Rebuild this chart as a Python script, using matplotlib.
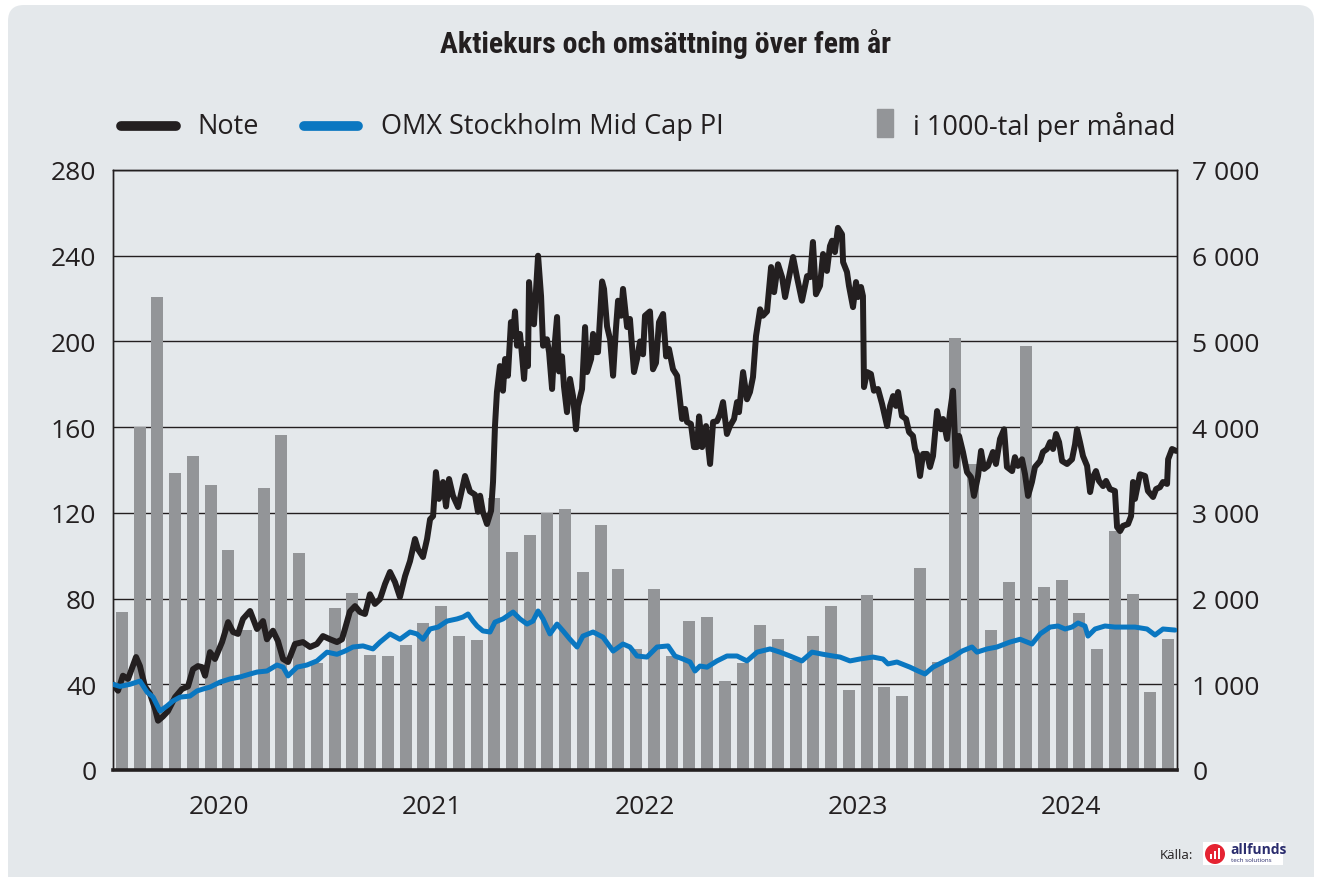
import matplotlib
matplotlib.use("Agg")
import numpy as np
import matplotlib.pyplot as plt
from matplotlib import font_manager
from matplotlib.patches import FancyBboxPatch, Rectangle, Circle
from matplotlib.lines import Line2D

# ---------------- data ----------------
years = ["2020", "2021", "2022", "2023", "2024"]

# monthly turnover, thousands of shares (Jan 2020 .. Dec 2024)
volume = [1849, 3997, 5515, 3464, 3661, 3326, 2571, 1633, 3289, 3910, 2535, 1250,
          1895, 2070, 1343, 1325, 1458, 1711, 1918, 1559, 1513, 3174, 2548, 2746,
          2999, 3045, 2305, 2861, 2350, 1408, 2107, 1329, 1743, 1780, 1044, 1247,
          1697, 1523, 1283, 1559, 1909, 929, 2047, 966, 869, 2360, 1256, 5041,
          3569, 1628, 2199, 4945, 2139, 2222, 1835, 1408, 2792, 2056, 906, 1523]

# Note share price: time in months since 1 Jan 2020, price in SEK
note_t = [0.00, 0.28, 0.56, 0.85, 1.30, 1.52, 1.80, 2.09, 2.37, 2.54, 2.82, 3.10, 3.50, 3.89,
          4.23, 4.51, 4.79, 5.02, 5.19, 5.47, 5.75, 6.15, 6.49, 6.77, 7.05, 7.33, 7.73, 8.12,
          8.46, 8.68, 9.02, 9.30, 9.59, 9.87, 10.26, 10.71, 11.11, 11.50, 11.84, 12.24, 12.63,
          12.91, 13.08, 13.36, 13.65, 13.93, 14.21, 14.49, 14.77, 15.06, 15.34, 15.62, 15.90,
          16.18, 16.47, 16.75, 17.03, 17.20, 17.48, 17.71, 17.88, 18.05, 18.21, 18.38, 18.61,
          18.78, 18.95, 19.17, 19.46, 19.85, 20.13, 20.41, 20.58, 20.70, 20.86, 21.09, 21.32,
          21.43, 21.54, 21.65, 21.82, 21.99, 22.11, 22.27, 22.44, 22.56, 22.67, 22.78, 22.95,
          23.06, 23.18, 23.29, 23.40, 23.46, 23.63, 23.74, 23.97, 24.14, 24.25, 24.47, 24.59,
          24.76, 24.87, 25.04, 25.15, 25.32, 25.43, 25.60, 25.77, 25.94, 26.11, 26.22, 26.45,
          26.62, 26.73, 26.96, 27.07, 27.24, 27.35, 27.58, 27.69, 27.86, 28.03, 28.20, 28.36,
          28.48, 28.65, 28.76, 28.99, 29.15, 29.38, 29.55, 29.72, 29.89, 30.00, 30.28, 30.45,
          30.62, 30.79, 31.02, 31.19, 31.35, 31.58, 31.81, 31.92, 32.09, 32.26, 32.37, 32.59,
          32.76, 32.93, 33.05, 33.22, 33.44, 33.67, 33.84, 34.06, 34.23, 34.40, 34.62, 34.79,
          35.02, 35.19, 35.30, 35.53, 35.75, 35.92, 36.09, 36.26, 36.49, 36.65, 36.88, 37.11,
          37.28, 37.50, 37.73, 37.90, 38.12, 38.35, 38.57, 38.85, 39.14, 39.31, 39.47, 39.64,
          39.87, 40.04, 40.26, 40.43, 40.55, 40.71, 40.88, 41.11, 41.17, 41.39, 41.50, 41.73,
          41.90, 42.01, 42.18, 42.29, 42.35, 42.52, 42.74, 42.91, 43.14, 43.37, 43.65, 43.82,
          43.99, 44.15, 44.27, 44.49, 44.72, 44.89, 45.11, 45.23, 45.34, 45.51, 45.68, 45.90,
          46.07, 46.24, 46.47, 46.69, 46.81, 47.03, 47.20, 47.37, 47.54, 47.71, 47.93, 48.16,
          48.38, 48.55, 48.78, 48.95, 49.12, 49.34, 49.62, 49.79, 50.02, 50.25, 50.41, 50.70,
          50.86, 51.03, 51.26, 51.43, 51.60, 51.82, 51.99, 52.28, 52.44, 52.67, 52.84, 53.01,
          53.18, 53.35, 53.52, 53.80, 54.08, 54.25, 54.36, 54.53, 54.70, 54.93, 55.10, 55.26,
          55.43, 55.60, 55.83, 56.00, 56.22, 56.50, 56.62, 56.79, 56.95, 57.24, 57.41, 57.52,
          57.63, 57.91, 58.20, 58.36, 58.65, 58.82, 59.04, 59.21, 59.44, 59.50, 59.72, 59.95]
note_v = [40, 37, 44, 42.5, 52.7, 48.5, 39, 35.5, 28.5, 23, 25, 27.5, 34, 37.8,
          39, 47, 48.5, 48, 44, 55, 51.8, 59.7, 69, 64.4, 63.5, 70.5, 74.2, 65.8,
          69.5, 61, 65, 60.2, 51.8, 50.4, 58.8, 59.7, 57.4, 58.8, 62.5, 61, 59.7,
          61, 65.8, 74, 76.5, 73.7, 72.8, 82, 77.5, 79.8, 86.8, 92.4, 87.7,
          80.7, 90.5, 97.5, 107.8, 103, 99.4, 107.8, 117, 118.5, 139, 126.5, 134.4,
          123, 135.8, 128, 122.7, 137.2, 130, 128.5, 120.5, 128, 120.4, 114.8, 121,
          134.4, 160.5, 176.4, 188.5, 177, 191.8, 184, 209, 202.5, 214, 198, 203.5,
          194, 182.5, 196.5, 188.5, 227.7, 209, 208, 240, 221, 198, 201, 195,
          177.8, 195, 211.4, 186, 193, 179, 167, 182.5, 174.5, 159, 170, 177.8,
          206.7, 185.7, 191.8, 203.5, 195, 195, 228, 224.5, 207, 201, 184, 205.8,
          219, 212, 224.5, 206.7, 210.5, 185.7, 191.8, 200, 194, 212, 214, 187,
          190, 209, 212.8, 193, 196.5, 187, 184, 176.4, 163.8, 168.5, 162.4, 161.5,
          150.7, 150.7, 165, 150.7, 160.5, 142.8, 162.4, 162.8, 166, 171.7, 156.8, 160.5,
          163.8, 171.7, 167, 185.7, 173, 176.4, 183.4, 202.5, 215, 212, 214, 234.7,
          223, 236, 230, 220.7, 230, 239.4, 230, 219, 230.5, 230, 246.4, 222,
          226, 240.8, 232.9, 244.5, 247, 241.7, 253, 250, 237, 232.4, 226, 216,
          227.7, 220.7, 225.4, 221.2, 178.7, 185.7, 184.8, 177, 177.8, 170.8, 160.5, 169.9,
          174.5, 169.9, 176.4, 165.2, 163.8, 157.7, 155.9, 149.8, 147.5, 137.2, 147.5, 147.5,
          141.4, 146.5, 167.5, 159, 163.8, 154.5, 167, 177, 141.9, 155.9, 148.4, 139,
          136.7, 127.9, 137.2, 148.9, 140.5, 141.9, 148.4, 142.8, 154.5, 159, 141.4, 139.5,
          146, 141.9, 145, 138, 127.9, 134.4, 141.4, 144.2, 148.4, 149.8, 153, 149.8,
          156.8, 153, 144.2, 142.8, 145, 152, 159, 153, 146.5, 141.9, 129.7, 136.7,
          139.5, 134.9, 132.5, 134.9, 131.1, 130.2, 113.4, 111.5, 113.9, 114.8, 118.5, 134.4,
          126.5, 138, 137.2, 130.2, 127.4, 131.1, 132, 134.4, 133.5, 145, 149.8, 148.9]

# OMX Stockholm Mid Cap PI, rebased to the left axis
omx_t = [0.00, 0.39, 0.96, 1.52, 1.92, 2.26, 2.65, 3.05, 3.38, 3.78, 4.34, 4.74, 5.08, 5.47,
         6.03, 6.60, 7.16, 7.73, 8.12, 8.68, 9.25, 9.59, 9.87, 10.15, 10.38, 10.94, 11.50,
         12.07, 12.63, 13.08, 13.53, 14.10, 14.66, 15.06, 15.62, 16.18, 16.75, 17.14, 17.48,
         17.88, 18.33, 18.84, 19.40, 19.74, 20.02, 20.30, 20.53, 20.86, 21.26, 21.54, 21.99,
         22.56, 22.95, 23.35, 23.68, 23.97, 24.25, 24.64, 25.04, 25.38, 25.77, 26.17, 26.50,
         27.07, 27.63, 28.20, 28.76, 29.15, 29.55, 30.11, 30.68, 31.30, 31.69, 32.14, 32.54,
         32.82, 33.10, 33.50, 34.06, 34.62, 35.19, 35.75, 36.32, 37.05, 37.61, 38.18, 38.85,
         39.42, 40.04, 40.60, 41.00, 41.56, 42.12, 42.86, 43.42, 43.70, 44.21, 44.94, 45.40,
         45.79, 46.24, 46.81, 47.37, 47.88, 48.44, 48.72, 49.29, 49.85, 50.58, 51.15, 51.82,
         52.28, 52.84, 53.29, 53.69, 54.08, 54.42, 54.81, 54.98, 55.38, 55.94, 56.50, 57.07,
         57.63, 58.31, 58.76, 59.21, 59.89]
omx_v = [40, 39, 40, 41.5, 36.4, 34, 27.5, 29.9, 32.2, 34, 34.5, 36.9, 37.8, 38.7,
         41, 42.5, 43.4, 44.8, 45.7, 46.2, 49, 48, 43.9, 46.2, 48, 49, 50.9,
         55, 54, 55.5, 57.4, 57.9, 56.5, 59.7, 63.5, 61, 64.4, 63.5, 61,
         65.8, 66.7, 69.5, 70.5, 71.4, 72.8, 69.5, 67.2, 64.9, 64.4, 69, 70.5,
         73.7, 70.5, 68.1, 69.5, 74.2, 70.5, 63.5, 68.1, 64.9, 61, 57.4, 62.5,
         64.4, 62, 55.5, 58.8, 57.4, 53.2, 52.7, 57.4, 57.9, 53.2, 51.8, 50.4,
         46.2, 48.5, 48, 50.9, 53.2, 53.2, 50.9, 55, 56.5, 55, 53.2, 50.9,
         55, 54, 53.2, 52.7, 50.9, 51.8, 52.7, 51.8, 49.5, 50.4, 48, 46.2,
         44.8, 48, 50.4, 52.7, 55.5, 57.4, 55, 56.5, 57.4, 59.7, 61, 58.8,
         63.5, 66.7, 67.2, 65.8, 66.7, 68.6, 67.2, 62.5, 65.8, 67.2, 66.7, 66.7,
         66.7, 65.8, 63, 65.8, 65.3]

left_ticks = [0, 40, 80, 120, 160, 200, 240, 280]
right_ticks = [0, 1000, 2000, 3000, 4000, 5000, 6000, 7000]

# ---------------- style ----------------
BG = "#e4e8eb"
INK = "#231f20"
BLUE = "#0a77c1"
GREY = "#939598"

avail = {f.name for f in font_manager.fontManager.ttflist}
def pick(*names):
    for n in names:
        if n in avail:
            return n
    return "DejaVu Sans"

BODY = pick("Open Sans", "Lato", "Noto Sans", "DejaVu Sans")
TITLE = pick("Liberation Sans Narrow", "DejaVu Sans Condensed", "Roboto Condensed", "Roboto", "Liberation Sans")
plt.rcParams["font.family"] = [BODY, "DejaVu Sans"]

W, H = 1322, 878
fig = plt.figure(figsize=(W / 100, H / 100), dpi=100)
fig.patch.set_facecolor("white")

panel = FancyBboxPatch((8, -30), W - 16, H - 6 + 30,
                       boxstyle="round,pad=0,rounding_size=16",
                       transform=None, facecolor=BG, edgecolor="none", zorder=-5)
fig.patches.append(panel)

rect = [113 / W, 1 - 771 / H, (1177 - 113) / W, (771 - 171) / H]
ax = fig.add_axes(rect)
axb = ax.twinx()
ax.set_zorder(axb.get_zorder() + 1)
ax.patch.set_visible(False)
axb.patch.set_visible(False)

TICKSIZE = 19

# bars (right axis)
months = np.arange(len(volume)) + 0.5
axb.bar(months, volume, width=0.68, color=GREY, zorder=2, linewidth=0)
axb.set_ylim(0, 7000)
axb.set_yticks(right_ticks)
axb.set_yticklabels([f"{v:,}".replace(",", " ") for v in right_ticks])
axb.yaxis.grid(True, color=INK, linewidth=1.0, zorder=1)
axb.set_axisbelow(True)
axb.tick_params(axis="y", length=0, pad=11, labelsize=TICKSIZE, labelcolor=INK)

# lines (left axis)
ax.plot(note_t, note_v, color=INK, linewidth=4.3, solid_joinstyle="round",
        solid_capstyle="round", zorder=3)
ax.plot(omx_t, omx_v, color=BLUE, linewidth=3.6, solid_joinstyle="round",
        solid_capstyle="round", zorder=4)
ax.set_ylim(0, 280)
ax.set_xlim(0, len(volume))
ax.set_yticks(left_ticks)
ax.set_yticklabels([str(v) for v in left_ticks])
ax.tick_params(axis="y", length=0, pad=12, labelsize=TICKSIZE, labelcolor=INK)
ax.set_xticks([6 + 12 * i for i in range(len(years))])
ax.set_xticklabels(years)
ax.tick_params(axis="x", length=0, pad=17, labelsize=TICKSIZE, labelcolor=INK)

for a in (ax, axb):
    for s in a.spines.values():
        s.set_color(INK)
        s.set_linewidth(1.0)
ax.spines["bottom"].set_linewidth(2.6)
axb.spines["bottom"].set_visible(False)
ax.spines["bottom"].set_zorder(6)

# title
fig.text(665 / W, 1 - 44 / H, "Aktiekurs och omsättning över fem år",
         ha="center", va="center", fontsize=21.5, fontweight="bold",
         family=[TITLE, "DejaVu Sans"], color=INK)

# legend (drawn manually)
ly = 1 - 127 / H
LEG = 19.5
fig.add_artist(Line2D([121 / W, 176 / W], [ly, ly], color=INK, linewidth=7,
                      solid_capstyle="round", transform=fig.transFigure))
fig.text(197 / W, ly, "Note", ha="left", va="center", fontsize=LEG, color=INK)
fig.add_artist(Line2D([304 / W, 358 / W], [ly, ly], color=BLUE, linewidth=7,
                      solid_capstyle="round", transform=fig.transFigure))
fig.text(381 / W, ly, "OMX Stockholm Mid Cap PI", ha="left", va="center", fontsize=LEG, color=INK)
fig.add_artist(Rectangle((877 / W, 1 - 138 / H), 16 / W, 28 / H, color=GREY,
                         transform=fig.transFigure))
fig.text(913 / W, ly, "i 1000-tal per månad", ha="left", va="center", fontsize=LEG, color=INK)

# source + logo
fig.text(1193 / W, 1 - 856 / H, "Källa:", ha="right", va="center", fontsize=9.5, color=INK)
fig.add_artist(Rectangle((1203 / W, 1 - 866 / H), 80 / W, 23 / H, facecolor="white",
                         edgecolor="none", transform=fig.transFigure))
fig.patches.append(Circle((1215, H - 855), 10, transform=None, facecolor="#e52332",
                          edgecolor="none", zorder=5))
for dx, hh in ((-4, 5), (0, 8), (4, 11)):
    fig.patches.append(Rectangle((1215 + dx - 1.2, H - 860), 2.4, hh, transform=None,
                                 facecolor="white", edgecolor="none", zorder=6))
fig.text(1230 / W, 1 - 850 / H, "allfunds", ha="left", va="center", fontsize=10,
         color="#2b2d6e", fontweight="bold")
fig.text(1231 / W, 1 - 861 / H, "tech solutions", ha="left", va="center", fontsize=4.5,
         color="#2b2d6e")

fig.savefig("out.png", dpi=100, facecolor=fig.get_facecolor())
